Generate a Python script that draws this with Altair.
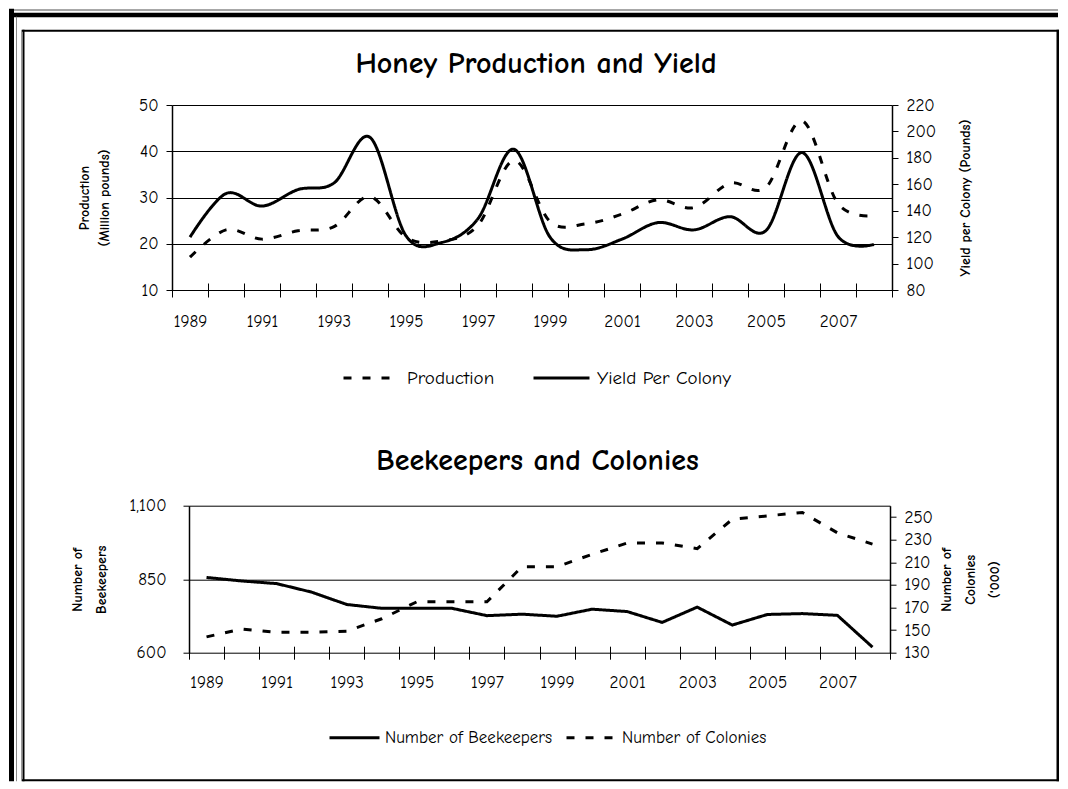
import altair as alt
import pandas as pd

# ---------------- data ----------------
years = list(range(1989, 2009))
production = [17.1, 23.0, 21.0, 22.8, 23.7, 30.2, 21.4, 20.6, 24.0, 38.0,
              24.8, 24.3, 26.4, 29.5, 27.8, 33.1, 32.2, 46.6, 28.7, 26.1]
yield_per_colony = [120, 153, 143.5, 156, 161, 195.5, 121, 116, 134, 186.5,
                    120, 110.5, 118.5, 131, 125.5, 135.5, 125, 184, 120.5, 114.5]
beekeepers = [856, 844, 835, 806, 764, 751, 751, 751, 726, 731,
              724, 748, 740, 703, 755, 694, 730, 733, 727, 619]
colonies = [144, 151, 148, 148, 149, 160, 175, 175, 175, 206,
            206, 217, 227, 227, 222, 248, 251, 254, 236, 226]

honey_series = ["Production", "Yield Per Colony"]
bee_series = ["Number of Beekeepers", "Number of Colonies"]
boundaries = [1988.5 + k for k in range(21)]

FONT = "'Comic Sans MS', 'Comic Neue', 'Open Sans', sans-serif"

honey = pd.DataFrame({"year": years, "production": production, "yield_pc": yield_per_colony})
bees = pd.DataFrame({"year": years, "beekeepers": beekeepers, "colonies": colonies})

TOP_W, TOP_H = 720, 185
BOT_W, BOT_H = 701, 147
GAP = 215.7
OX, OY = 171, 104.3 + TOP_H + GAP  # page position of the spacer cell (holds the page frame)

TICK_FS = 17
AXIS_TITLE_FS = 14
TITLE_FS = 30

LABEL_EXPR = ("(datum.value - 1988.5) % 2 == 0 && datum.value < 2008 ? "
              "'' + (datum.value + 0.5) : ''")


def x_enc(width, offset, tick, pad):
    return alt.X(
        "year:Q",
        scale=alt.Scale(domain=[1988.5, 2008.5], nice=False, zero=False),
        axis=alt.Axis(values=boundaries, title=None, grid=False, domain=False,
                      offset=offset, tickSize=tick, tickColor="black", tickWidth=1,
                      labelOffset=width / 40, labelPadding=pad, labelFlush=False,
                      labelOverlap=False, labelExpr=LABEL_EXPR, labelFontSize=TICK_FS),
    )


def y_axis(orient, values, title, title_x, height, line_h, grid, fmt=None, pad=8):
    kw = dict(orient=orient, values=values, grid=grid, gridColor="black", gridWidth=1,
              domainColor="black", domainWidth=1.5, tickColor="black", tickSize=6,
              labelPadding=pad, labelFontSize=TICK_FS, title=title, titleFontSize=AXIS_TITLE_FS,
              titleFontWeight="bold", titleAngle=270, titleX=title_x, titleY=height / 2,
              titleAlign="center", titleBaseline="top", titleLineHeight=line_h)
    if fmt:
        kw["format"] = fmt
    return alt.Axis(**kw)


# ---------------- decorative page frame (filled rects, drawn in the spacer cell) ----------------
frame_df = pd.DataFrame({"k": [0]})


def band(x1, x2, y1, y2, c):
    return alt.Chart(frame_df).mark_rect(color=c, strokeWidth=0).encode(
        x=alt.value(x1 - OX), x2=alt.value(x2 - OX),
        y=alt.value(y1 - OY), y2=alt.value(y2 - OY))


frame = [
    band(8, 1057, 8.5, 10, "#8a8a8a"),      # outer top grey line
    band(8, 1057, 12, 16.5, "black"),       # outer top black line
    band(8, 13, 8, 780.5, "black"),         # outer left black line
    band(15, 16, 16, 780.5, "#8a8a8a"),     # outer left grey line
    band(20, 21, 29, 780.5, "#9a9a9a"),     # inner frame shadow
    band(21, 1058, 29, 31, "black"),        # inner frame top
    band(21, 1058, 778.5, 780.5, "black"),  # inner frame bottom
    band(21.5, 23.5, 29, 780.5, "black"),   # inner frame left
    band(1055.5, 1058, 29, 780.5, "black"),  # inner frame right
]

# ---------------- top panel ----------------
dash_top = alt.StrokeDash(
    "series:N",
    scale=alt.Scale(domain=honey_series, range=[[8, 11], [1, 0]]),
    legend=alt.Legend(title=None, orient="none", legendX=170, legendY=264,
                      direction="horizontal", symbolType="stroke", symbolSize=3136,
                      symbolStrokeWidth=3, symbolStrokeColor="black", labelFontSize=19,
                      labelOffset=6, columnPadding=37, clipHeight=18, padding=0,
                      labelLimit=400),
)
x_top = x_enc(TOP_W, -7, 14, 16)

prod_line = alt.Chart(honey).transform_calculate(series="'Production'").mark_line(
    color="black", strokeWidth=3, interpolate="cardinal").encode(
    x=x_top,
    y=alt.Y("production:Q", scale=alt.Scale(domain=[10, 50], nice=False, zero=False),
            axis=y_axis("left", [10, 20, 30, 40, 50], ["Production", "(Million pounds)"],
                        -95, TOP_H, 20, True)),
    strokeDash=dash_top,
)
yield_line = alt.Chart(honey).transform_calculate(series="'Yield Per Colony'").mark_line(
    color="black", strokeWidth=3, interpolate="cardinal").encode(
    x=x_top,
    y=alt.Y("yield_pc:Q", scale=alt.Scale(domain=[80, 220], nice=False, zero=False),
            axis=y_axis("right", list(range(80, 221, 20)), "Yield per Colony (Pounds)",
                        66, TOP_H, 20, False)),
    strokeDash=dash_top,
)

top = alt.layer(prod_line, yield_line).resolve_scale(y="independent").properties(
    width=TOP_W, height=TOP_H,
    title=alt.TitleParams("Honey Production and Yield", fontSize=TITLE_FS, fontWeight="bold",
                          anchor="middle", baseline="alphabetic", offset=0, dy=7, dx=4),
)

# ---------------- bottom panel ----------------
dash_bot = alt.StrokeDash(
    "series:N",
    scale=alt.Scale(domain=bee_series, range=[[1, 0], [8, 11]]),
    legend=alt.Legend(title=None, orient="none", legendX=156, legendY=223,
                      direction="horizontal", symbolType="stroke", symbolSize=2500,
                      symbolStrokeWidth=3, symbolStrokeColor="black", labelFontSize=17,
                      labelOffset=4, columnPadding=12, clipHeight=18, padding=0,
                      labelLimit=400),
)
x_bot = x_enc(BOT_W, -6.5, 13, 15)

bee_line = alt.Chart(bees).transform_calculate(series="'Number of Beekeepers'").mark_line(
    color="black", strokeWidth=3).encode(
    x=x_bot,
    y=alt.Y("beekeepers:Q", scale=alt.Scale(domain=[600, 1100], nice=False, zero=False),
            axis=y_axis("left", [600, 850, 1100], ["Number of", "Beekeepers"],
                        -119, BOT_H, 24, True, fmt=",.0f", pad=17)),
    strokeDash=dash_bot,
)
col_line = alt.Chart(bees).transform_calculate(series="'Number of Colonies'").mark_line(
    color="black", strokeWidth=3).encode(
    x=x_bot,
    y=alt.Y("colonies:Q", scale=alt.Scale(domain=[130, 260], nice=False, zero=False),
            axis=y_axis("right", list(range(130, 251, 20)), ["Number of", "Colonies", "('000)"],
                        49, BOT_H, 24, False)),
    strokeDash=dash_bot,
)

bottom = alt.layer(bee_line, col_line).resolve_scale(y="independent").properties(
    width=BOT_W, height=BOT_H,
    title=alt.TitleParams("Beekeepers and Colonies", fontSize=TITLE_FS, fontWeight="bold",
                          anchor="middle", baseline="alphabetic", offset=0, dy=3, dx=-2),
)

spacer = alt.layer(*frame).properties(width=17, height=10)

chart = alt.vconcat(
    top,
    alt.hconcat(spacer, bottom, spacing=0, bounds="flush"),
    spacing=GAP, bounds="flush",
).resolve_scale(strokeDash="independent").properties(
    padding=0, background="white"
).configure_axis(
    labelFont=FONT, titleFont=FONT, labelColor="black", titleColor="black"
).configure_legend(
    labelFont=FONT, labelColor="black"
).configure_title(
    font=FONT, color="black"
).configure_view(stroke="transparent")

chart.save("out.html", embed_options={"renderer": "svg", "actions": False})
